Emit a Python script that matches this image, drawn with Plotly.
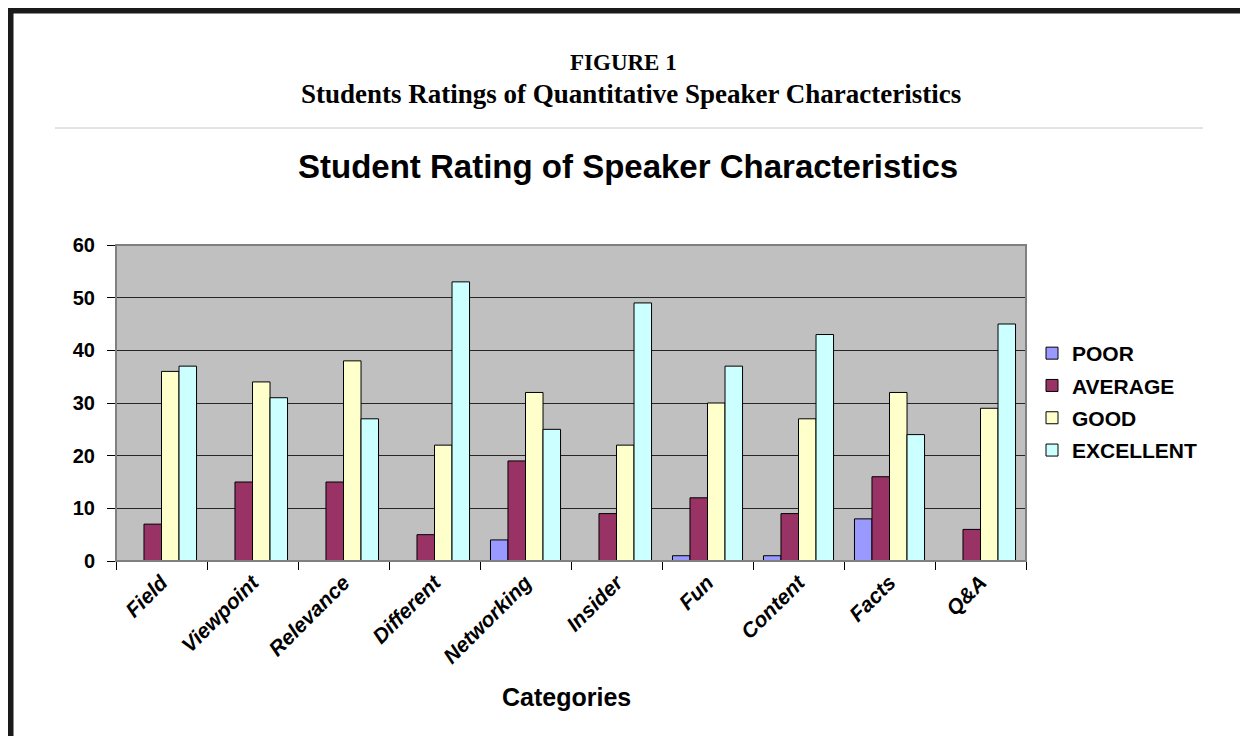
import plotly.graph_objects as go

categories = ["Field", "Viewpoint", "Relevance", "Different", "Networking",
              "Insider", "Fun", "Content", "Facts", "Q&A"]
poor = [0, 0, 0, 0, 4, 0, 1, 1, 8, 0]
average = [7, 15, 15, 5, 19, 9, 12, 9, 16, 6]
good = [36, 34, 38, 22, 32, 22, 30, 27, 32, 29]
excellent = [37, 31, 27, 53, 25, 49, 37, 43, 24, 45]
series_names = ["POOR", "AVERAGE", "GOOD", "EXCELLENT"]
series_colors = ["#9999FF", "#993366", "#FFFFCC", "#CCFFFF"]
y_ticks = [0, 10, 20, 30, 40, 50, 60]

fig = go.Figure()
for name, vals, col in zip(series_names, [poor, average, good, excellent], series_colors):
    fig.add_trace(go.Bar(
        x=categories, y=vals, name=name, legendgroup=name,
        marker=dict(color=col, line=dict(color="#000000", width=1)),
    ))

OFF = 8  # browser body margin
W, H = 1248 - OFF, 736 - OFF
# plot area in page coordinates
L, R, T, B = 116, 1026, 245, 561
pw, ph = R - L, B - T

def px(x):
    return (x - L) / pw

def py(y):
    return (B - y) / ph

fig.update_layout(
    width=W, height=H,
    margin=dict(l=L - OFF, r=W - (R - OFF), t=T - OFF, b=H - (B - OFF)),
    paper_bgcolor="white",
    plot_bgcolor="#C0C0C0",
    barmode="group", bargap=0.23, bargroupgap=0,
    font=dict(family="Liberation Sans, Arial, sans-serif", color="#000000"),
    showlegend=True,
    legend=dict(x=px(1032), y=py(402), xanchor="left", yanchor="middle",
                font=dict(size=21, weight="bold"), tracegroupgap=2,
                bgcolor="rgba(0,0,0,0)", itemclick=False),
    xaxis=dict(showline=True, linecolor="#000000", linewidth=1,
               ticks="outside", ticklen=8, tickcolor="#000000", tickson="boundaries",
               tickangle=-45, tickfont=dict(size=21, weight="bold", style="italic"),
               showgrid=False),
    yaxis=dict(range=[0, 60], tickvals=y_ticks, showline=True, linecolor="#000000",
               linewidth=1, ticks="outside", ticklen=8, tickcolor="#000000",
               ticklabelstandoff=8,
               tickfont=dict(size=20, weight="bold"), showgrid=True,
               gridcolor="#262626", gridwidth=1, zeroline=False),
)

shapes = [
    dict(type="rect", xref="paper", yref="paper", x0=0, x1=1, y0=0, y1=1,
         line=dict(color="#808080", width=2), layer="above"),
    dict(type="line", xref="paper", yref="paper", x0=px(55), x1=px(1203),
         y0=py(128), y1=py(128), line=dict(color="#C8C8C8", width=1)),
    dict(type="rect", xref="paper", yref="paper", x0=px(7), x1=px(13.5),
         y0=py(760), y1=py(7.5), fillcolor="#1A1A1A", line=dict(width=0)),
    dict(type="rect", xref="paper", yref="paper", x0=px(7), x1=px(1270),
         y0=py(13.5), y1=py(7.5), fillcolor="#1A1A1A", line=dict(width=0)),
]
fig.update_layout(shapes=shapes)

serif = "Liberation Serif, Times New Roman, serif"
annotations = [
    dict(text="<b>FIGURE 1</b>", x=px(623), y=py(62), xref="paper", yref="paper",
         showarrow=False, xanchor="center", yanchor="middle",
         font=dict(family=serif, size=23)),
    dict(text="<b>Students Ratings of Quantitative Speaker Characteristics</b>",
         x=px(631), y=py(94), xref="paper", yref="paper",
         showarrow=False, xanchor="center", yanchor="middle",
         font=dict(family=serif, size=27)),
    dict(text="<b>Student Rating of Speaker Characteristics</b>",
         x=px(628), y=py(166), xref="paper", yref="paper",
         showarrow=False, xanchor="center", yanchor="middle",
         font=dict(size=33)),
    dict(text="<b>Categories</b>", x=px(566), y=py(697), xref="paper", yref="paper",
         showarrow=False, xanchor="center", yanchor="middle",
         font=dict(size=25)),
]
fig.update_layout(annotations=annotations)

fig.write_html("out.html")
